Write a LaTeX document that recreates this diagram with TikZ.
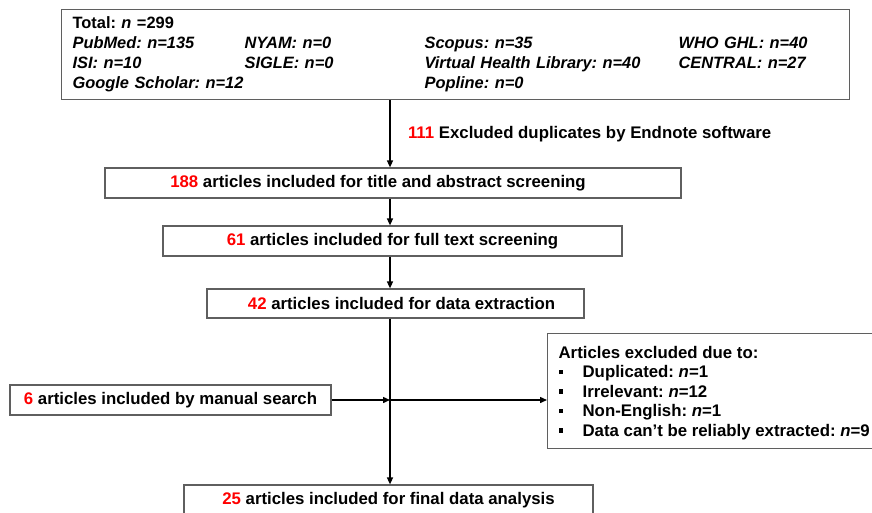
\documentclass[tikz,border=0pt]{standalone}
\usepackage{fontspec}
\setmainfont{Liberation Sans}
\usetikzlibrary{arrows.meta,positioning,calc}
\definecolor{numred}{RGB}{255,0,0}
\definecolor{boxgray}{RGB}{95,95,95}
\newcommand{\num}[1]{\textcolor{numred}{#1}}
\newcommand{\sqbullet}{\rule[3.5pt]{4.5pt}{4.5pt}}

\begin{document}
\frenchspacing
\begin{tikzpicture}[x=1pt, y=-1pt,
    box/.style={draw=boxgray, line width=1.2pt, inner sep=0pt,
        font=\bfseries\fontsize{16.8}{20}\selectfont},
    arr/.style={-{Triangle[length=7pt,width=6pt]}, line width=1.4pt}]
    \useasboundingbox (0,0) rectangle (872,513);

    % Records found in the databases
    \node[box, anchor=north west, minimum width=788pt, minimum height=90pt,
        inner xsep=11pt, text width=766pt, align=left,
        font=\bfseries\fontsize{16.4}{20}\selectfont] (src) at (61,9)
        {\begin{tabular}{@{}p{172pt}@{}p{180pt}@{}p{254pt}@{}l@{}}
        Total: \textit{n} =299\\
        \itshape PubMed: n=135 & \itshape NYAM: n=0 & \itshape Scopus: n=35 & \itshape WHO GHL: n=40\\
        \itshape ISI: n=10 & \itshape SIGLE: n=0 & \itshape Virtual Health Library: n=40 & \itshape CENTRAL: n=27\\
        \multicolumn{2}{@{}l}{\itshape Google Scholar: n=12} & \itshape Popline: n=0 &
        \end{tabular}};

    % Screening steps
    \coordinate (spine) at (390,0);
    \node[box, minimum width=576pt, minimum height=30pt] (title) at (393,183)
        {\num{188} articles included for title and abstract screening\hspace*{30pt}};
    \node[box, minimum width=459pt, minimum height=30pt] (full) at (392.5,241)
        {\num{61} articles included for full text screening};
    \node[box, minimum width=377pt, minimum height=29pt] (extract) at (395.5,303.5)
        {\hspace*{12pt}\num{42} articles included for data extraction};
    \node[box, minimum width=409pt, minimum height=30pt] (final) at (388.5,500)
        {\num{25} articles included for final data analysis};

    % Side boxes
    \node[box, minimum width=321pt, minimum height=30pt] (manual) at (170.5,400)
        {\num{6} articles included by manual search};
    \node[box, anchor=north west, minimum width=327pt, minimum height=115pt,
        inner xsep=11pt, align=left, font=\bfseries\fontsize{16.8}{19.5}\selectfont] (excl) at (547,333)
        {\begin{tabular}{@{}p{24pt}@{}l@{}}
        \multicolumn{2}{@{}l}{\rule{0pt}{18pt}Articles excluded due to:}\\
        \sqbullet & Duplicated: \textit{n}=1\\
        \sqbullet & Irrelevant: \textit{n}=12\\
        \sqbullet & Non-English: \textit{n}=1\\
        \sqbullet & Data can’t be reliably extracted: \textit{n}=9
        \end{tabular}};

    % Arrows
    \draw[arr] (src.south -| spine) -- (title.north -| spine)
        node[pos=0.5, right=14pt, font=\bfseries\fontsize{16.8}{20}\selectfont] (dup)
        {\num{111} Excluded duplicates by Endnote software};
    \draw[arr] (title.south -| spine) -- (full.north -| spine);
    \draw[arr] (full.south -| spine) -- (extract.north -| spine);
    \draw[arr] (extract.south -| spine) -- (final.north -| spine);
    \coordinate (join) at (manual.east -| spine);
    \draw[arr] (manual.east) -- (join);
    \draw[arr] (join) -- (excl.west |- join);
\end{tikzpicture}
\end{document}
